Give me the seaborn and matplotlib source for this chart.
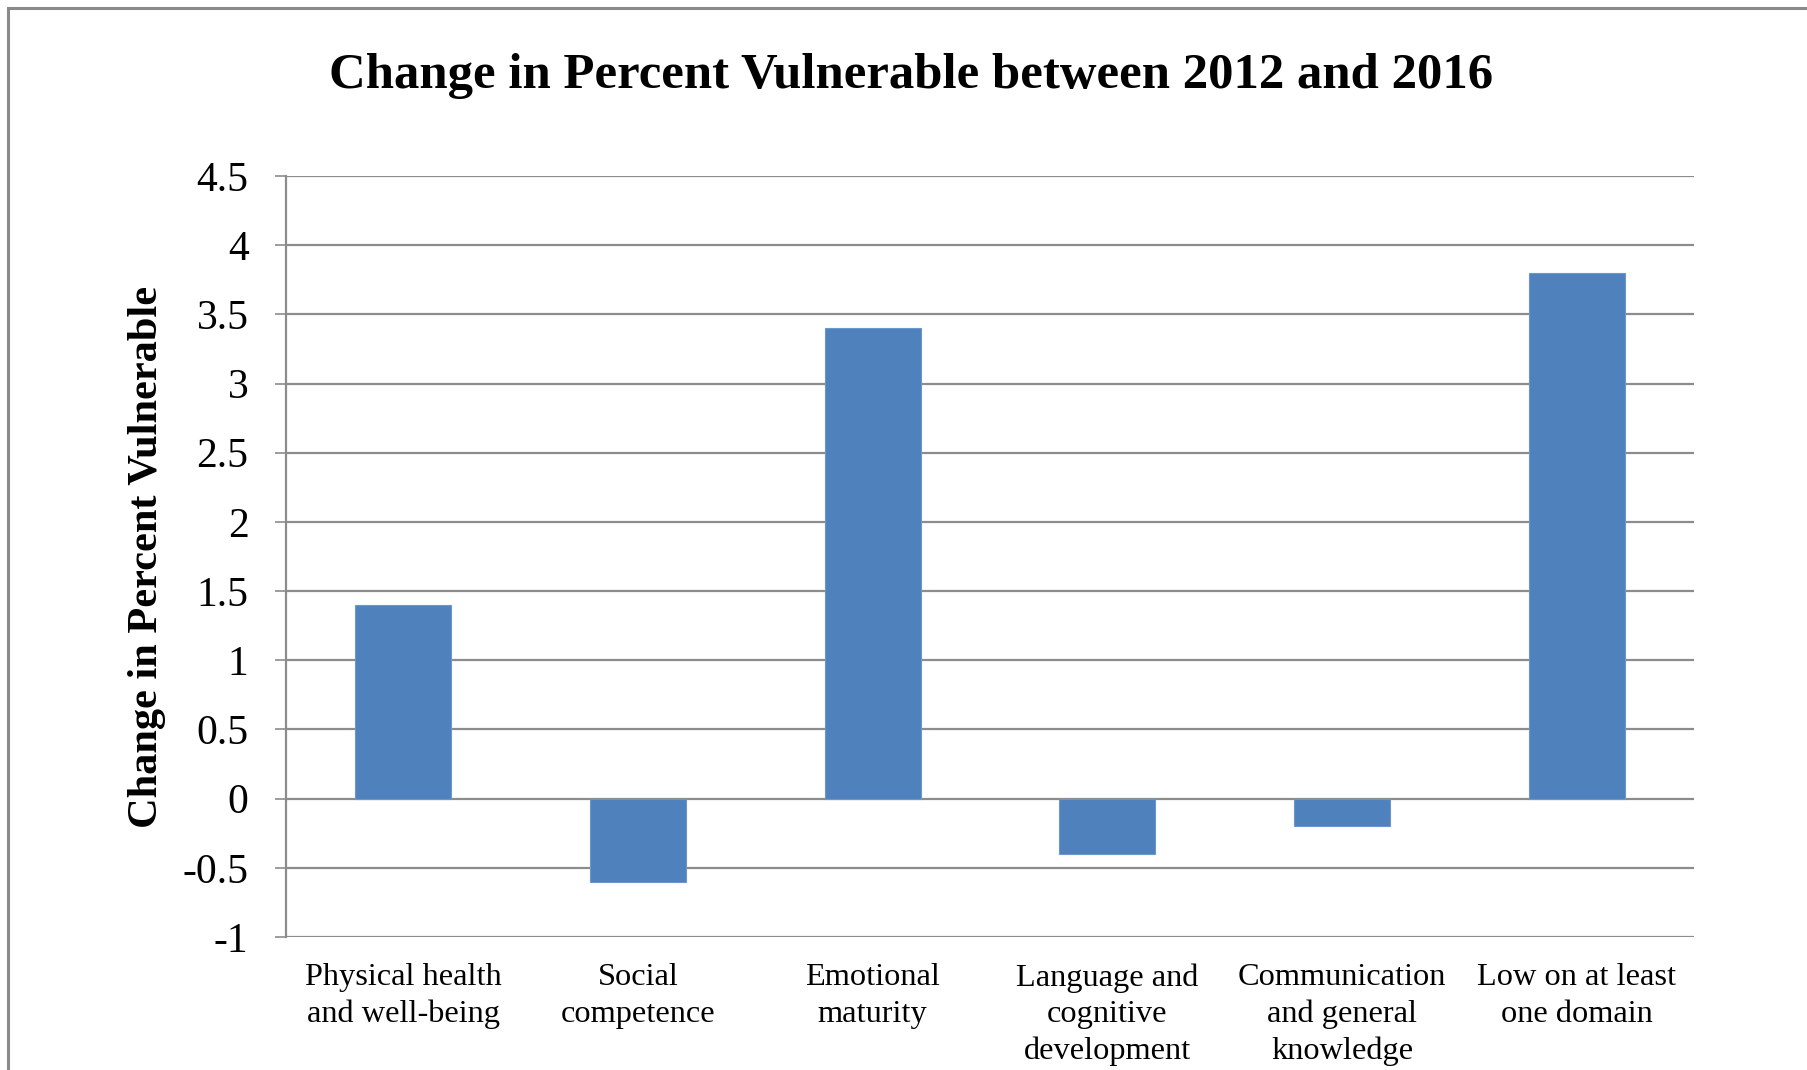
import matplotlib
matplotlib.use("Agg")
import matplotlib.pyplot as plt
import seaborn as sns
import pandas as pd
from matplotlib.patches import Rectangle

categories = ["Physical health\nand well-being", "Social\ncompetence", "Emotional\nmaturity",
              "Language and\ncognitive\ndevelopment", "Communication\nand general\nknowledge",
              "Low on at least\none domain"]
values = [1.4, -0.6, 3.4, -0.4, -0.2, 3.8]
yticks = [-1, -0.5, 0, 0.5, 1, 1.5, 2, 2.5, 3, 3.5, 4, 4.5]
ytick_labels = ["-1", "-0.5", "0", "0.5", "1", "1.5", "2", "2.5", "3", "3.5", "4", "4.5"]

sns.set_theme(style="white")
plt.rcParams['font.family'] = ['Liberation Serif', 'DejaVu Serif']
plt.rcParams['text.color'] = 'black'
plt.rcParams['xtick.color'] = 'black'
plt.rcParams['ytick.color'] = 'black'

df = pd.DataFrame({"cat": categories, "val": values})

fig = plt.figure(figsize=(18.07, 10.70), dpi=100)
ax = fig.add_axes([0.1583, 0.1243, 0.7792, 0.7112])

grid_color = "#8c8c8c"
for t in yticks:
    ax.axhline(t, color=grid_color, lw=1.6, zorder=0)

sns.barplot(data=df, x="cat", y="val", color="#4F81BD", saturation=1, width=0.41,
            ax=ax, zorder=2, edgecolor="#6d97c9", linewidth=0.8)

ax.set_xlim(-0.5, 5.5)
ax.set_ylim(-1, 4.5)
ax.set_yticks(yticks)
ax.set_yticklabels(ytick_labels, fontsize=30, color="black")
ax.tick_params(axis='y', length=8, width=1.2, color=grid_color, labelcolor="black",
               pad=19, direction='out', left=True)
ax.tick_params(axis='x', length=0, pad=19, labelsize=23.3, labelcolor="black")
for lbl in ax.get_xticklabels():
    lbl.set_linespacing(1.33)
    lbl.set_verticalalignment('top')

for s in ["top", "right", "bottom"]:
    ax.spines[s].set_visible(False)
ax.spines["left"].set_color(grid_color)
ax.spines["left"].set_linewidth(1.6)
ax.set_xlabel("")
ax.set_ylabel("")

fig.text(0.0813, 0.4799, "Change in Percent Vulnerable", rotation=90, ha="center", va="center",
         fontsize=30.5, fontweight="bold", color="black")
fig.text(0.504, 0.929, "Change in Percent Vulnerable between 2012 and 2016", ha="center", va="center",
         fontsize=36.5, fontweight="bold", color="black")

border = Rectangle((8 / 1807, -0.05), 1.2, 1 - (-0.05) - 8 / 1070, transform=fig.transFigure,
                   fill=False, edgecolor="#8a8a8a", lw=2.2, zorder=10, clip_on=False)
fig.patches.append(border)

fig.savefig("out.png", dpi=100)
